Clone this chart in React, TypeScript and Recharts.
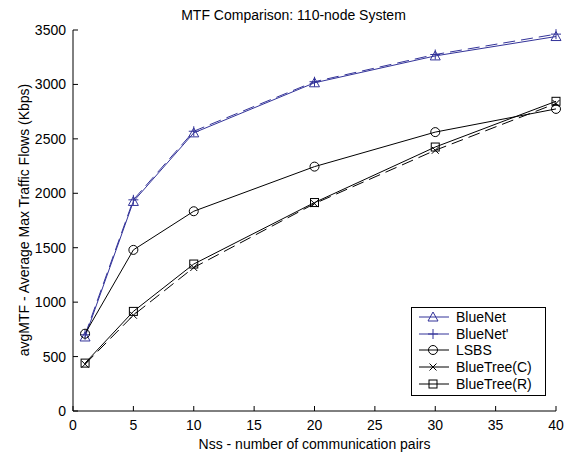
import React from 'react';
import { LineChart, Line, XAxis, YAxis } from 'recharts';

const nss = [1, 5, 10, 20, 30, 40];
const blueNet = [680, 1925, 2555, 3015, 3262, 3440];
const blueNetPrime = [700, 1940, 2570, 3025, 3275, 3462];
const lsbs = [710, 1480, 1835, 2245, 2562, 2775];
const blueTreeC = [430, 880, 1318, 1905, 2395, 2825];
const blueTreeR = [440, 915, 1350, 1915, 2425, 2845];

const xTicks = [0, 5, 10, 15, 20, 25, 30, 35, 40];
const yTicks = [0, 500, 1000, 1500, 2000, 2500, 3000, 3500];

const BLUE = '#333399';
const FONT = '"Liberation Sans", Arial, Helvetica, sans-serif';

type MarkerType = 'triangle' | 'plus' | 'circle' | 'x' | 'square';

const series: { key: string; name: string; values: number[]; color: string; dash?: string; marker: MarkerType }[] = [
  { key: 'blueNet', name: 'BlueNet', values: blueNet, color: BLUE, marker: 'triangle' },
  { key: 'blueNetPrime', name: "BlueNet'", values: blueNetPrime, color: BLUE, dash: '12 6', marker: 'plus' },
  { key: 'lsbs', name: 'LSBS', values: lsbs, color: '#000', marker: 'circle' },
  { key: 'blueTreeC', name: 'BlueTree(C)', values: blueTreeC, color: '#000', dash: '12 6', marker: 'x' },
  { key: 'blueTreeR', name: 'BlueTree(R)', values: blueTreeR, color: '#000', marker: 'square' },
];

const data = nss.map((n, i) => {
  const row: Record<string, number> = { nss: n };
  series.forEach(s => { row[s.key] = s.values[i]; });
  return row;
});

const Marker = ({ cx, cy, type, color }: { cx: number; cy: number; type: MarkerType; color: string }) => {
  const common = { stroke: color, strokeWidth: 1, fill: 'none' };
  switch (type) {
    case 'triangle':
      return <polygon points={`${cx},${cy - 5} ${cx - 5},${cy + 4} ${cx + 5},${cy + 4}`} {...common} />;
    case 'plus':
      return <path d={`M${cx - 5},${cy}H${cx + 5}M${cx},${cy - 5}V${cy + 5}`} {...common} />;
    case 'circle':
      return <circle cx={cx} cy={cy} r={4.5} {...common} />;
    case 'x':
      return <path d={`M${cx - 3.5},${cy - 3.5}L${cx + 3.5},${cy + 3.5}M${cx - 3.5},${cy + 3.5}L${cx + 3.5},${cy - 3.5}`} {...common} />;
    default:
      return <rect x={cx - 4} y={cy - 4} width={8} height={8} {...common} />;
  }
};

const LegendBox = () => (
  <div style={{
    position: 'absolute', left: 411, top: 307, width: 133, height: 85,
    border: '1px solid #000', background: '#fff', padding: '1px 0'
  }}>
    {series.map(s => (
      <div key={s.key} style={{ display: 'flex', alignItems: 'center', height: 16.6 }}>
        <svg width={40} height={16} style={{ marginLeft: 4 }}>
          <line x1={3} y1={8} x2={33} y2={8} stroke={s.color} strokeWidth={1} />
          <Marker cx={17} cy={8} type={s.marker} color={s.color} />
        </svg>
        <span style={{ fontSize: 14, color: '#000' }}>{s.name}</span>
      </div>
    ))}
  </div>
);

export default function App() {
  return (
    <div style={{ position: 'absolute', left: 0, top: 0, width: 568, height: 452, background: '#fff', fontFamily: FONT }}>
      <div style={{ position: 'absolute', left: 0, width: 587, top: 6, textAlign: 'center', fontSize: 14, lineHeight: '18px' }}>
        MTF Comparison: 110-node System
      </div>
      <div style={{
        position: 'absolute', left: 24, top: 220, fontSize: 14, whiteSpace: 'nowrap',
        transform: 'translate(-50%, -50%) rotate(-90deg)'
      }}>
        avgMTF - Average Max Traffic Flows (Kbps)
      </div>
      <LineChart width={568} height={452} data={data} margin={{ top: 30, right: 12, bottom: 0, left: 0 }}>
        <XAxis xAxisId="b" dataKey="nss" type="number" domain={[0, 40]} ticks={xTicks} interval={0}
          height={41} tickSize={-5} tickMargin={14} stroke="#000" tick={{ fill: '#000', fontSize: 14, fontFamily: FONT }}
          label={{ value: 'Nss - number of communication pairs', position: 'insideBottom', offset: 3, fill: '#000', fontSize: 14, fontFamily: FONT }} />
        <XAxis xAxisId="t" orientation="top" dataKey="nss" type="number" domain={[0, 40]} ticks={xTicks} interval={0}
          height={0} tickSize={-5} tick={false} stroke="#000" />
        <YAxis yAxisId="l" type="number" domain={[0, 3500]} ticks={yTicks} interval={0} width={73}
          tickSize={-5} tickMargin={12} stroke="#000" tick={{ fill: '#000', fontSize: 14, fontFamily: FONT }} />
        <YAxis yAxisId="r" orientation="right" type="number" domain={[0, 3500]} ticks={yTicks} interval={0} width={0}
          tickSize={-5} tick={false} stroke="#000" />
        {series.map(s => (
          <Line key={s.key} xAxisId="b" yAxisId="l" type="linear" dataKey={s.key} name={s.name}
            stroke={s.color} strokeWidth={1} strokeDasharray={s.dash} isAnimationActive={false}
            dot={(p: any) => <Marker key={`${s.key}-${p.index}`} cx={p.cx} cy={p.cy} type={s.marker} color={s.color} />} />
        ))}
      </LineChart>
      <LegendBox />
    </div>
  );
}
